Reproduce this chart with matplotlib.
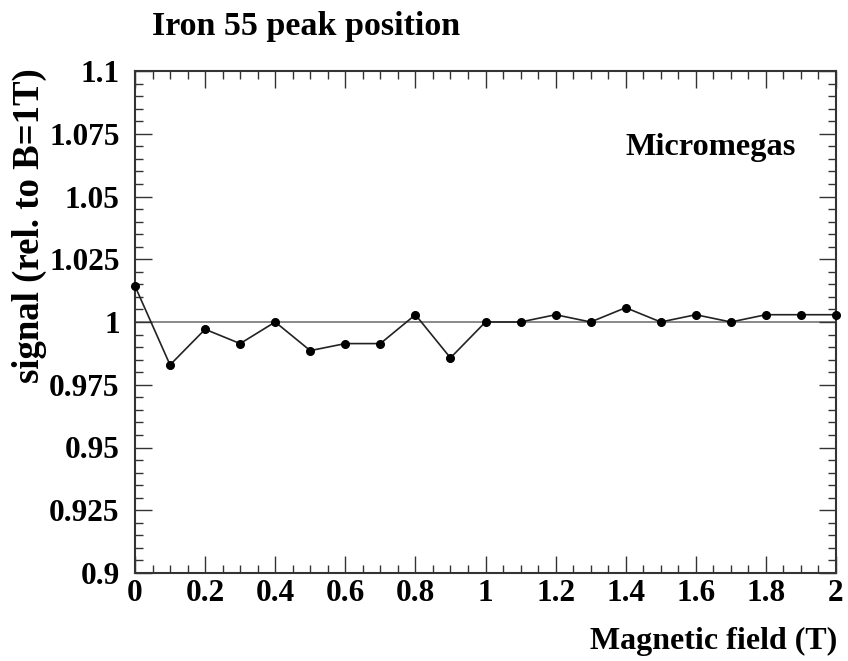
import matplotlib
matplotlib.use("Agg")
import matplotlib.pyplot as plt
from matplotlib.ticker import MultipleLocator, FixedLocator

field = [0.0, 0.1, 0.2, 0.3, 0.4, 0.5, 0.6, 0.7, 0.8, 0.9, 1.0,
         1.1, 1.2, 1.3, 1.4, 1.5, 1.6, 1.7, 1.8, 1.9, 2.0]
signal = [1.0143, 0.9829, 0.9971, 0.9914, 1.0000, 0.9886, 0.9914, 0.9914,
          1.0029, 0.9857, 1.0000, 1.0000, 1.0029, 1.0000, 1.0057, 1.0000,
          1.0029, 1.0000, 1.0029, 1.0029, 1.0029]
xticks = [0, 0.2, 0.4, 0.6, 0.8, 1, 1.2, 1.4, 1.6, 1.8, 2]
xticklabels = ["0", "0.2", "0.4", "0.6", "0.8", "1", "1.2", "1.4", "1.6", "1.8", "2"]
yticks = [0.9, 0.925, 0.95, 0.975, 1.0, 1.025, 1.05, 1.075, 1.1]
yticklabels = ["0.9", "0.925", "0.95", "0.975", "1", "1.025", "1.05", "1.075", "1.1"]

plt.rcParams["font.family"] = ["Liberation Serif", "DejaVu Serif"]
plt.rcParams["font.weight"] = "bold"

W, H = 848, 661
fig = plt.figure(figsize=(W / 100, H / 100), dpi=100)
L, R, T, B = 135, 836, 71, 573
ax = fig.add_axes([L / W, 1 - B / H, (R - L) / W, (B - T) / H])

ax.axhline(1.0, color="#808080", lw=1.3, zorder=1)
ax.plot(field, signal, color="#222222", lw=1.2, marker="o", ms=5.5,
        mfc="black", mec="black", zorder=3, clip_on=False)

ax.set_xlim(0, 2)
ax.set_ylim(0.9, 1.1)
ax.xaxis.set_major_locator(FixedLocator(xticks))
ax.set_xticklabels(xticklabels)
ax.yaxis.set_major_locator(FixedLocator(yticks))
ax.set_yticklabels(yticklabels)
ax.xaxis.set_minor_locator(MultipleLocator(0.05))
ax.yaxis.set_minor_locator(MultipleLocator(0.005))
ax.tick_params(which="both", direction="in", top=True, right=True,
               color="#333333", width=1.0)
ax.tick_params(which="major", length=12, labelsize=22.5)
ax.tick_params(which="minor", length=6)
ax.tick_params(axis="x", which="major", pad=4)
ax.tick_params(axis="y", which="major", pad=11)
for lab in ax.get_xticklabels() + ax.get_yticklabels():
    lab.set_fontweight("bold")
for s in ax.spines.values():
    s.set_linewidth(1.5)
    s.set_color("#333333")

fig.text(152 / W, 1 - 27 / H, "Iron 55 peak position", ha="left", va="center",
         fontsize=24.5, fontweight="bold")
fig.text(837 / W, 1 - 641 / H, "Magnetic field (T)", ha="right", va="center",
         fontsize=23, fontweight="bold")
fig.text(29 / W, 1 - 226 / H, "signal (rel. to B=1T)", ha="center", va="center",
         rotation=90, fontsize=26.5, fontweight="bold")
fig.text(711 / W, 1 - 148 / H, "Micromegas", ha="center", va="center",
         fontsize=23.3, fontweight="bold")

fig.savefig("out.png", dpi=100)
